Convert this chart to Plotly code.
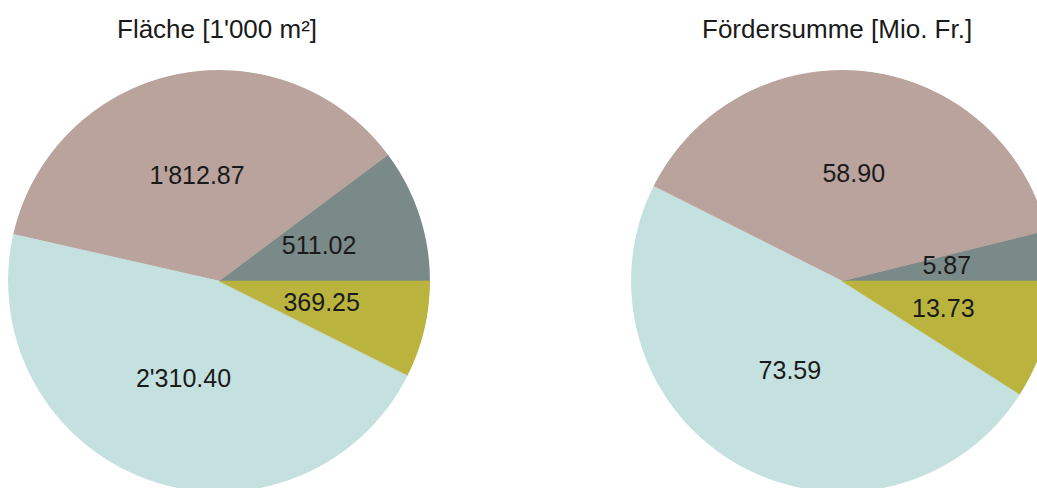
import numpy as np
import plotly.graph_objects as go

categories = ["A", "B", "C", "D"]
flaeche = [511.02, 1812.87, 2310.40, 369.25]
foerdersumme = [5.87, 58.90, 73.59, 13.73]
colors = ["#7a8a88", "#b9a39c", "#c5e1df", "#bab43f"]
titles = ["Fläche [1'000 m²]", "Fördersumme [Mio. Fr.]"]

W, H = 1070, 500
FONT = "Liberation Sans, Arial"

def px_dom_x(cx, r):
    return [(cx - r) / W, (cx + r) / W]

def px_dom_y(cy, r):
    return [(H - cy - r) / H, (H - cy + r) / H]

fig = go.Figure()
layout_polars = {}
for k, (vals, cx) in enumerate([(flaeche, 219), (foerdersumme, 842)]):
    pname = "polar" if k == 0 else "polar2"
    v = np.array(vals, dtype=float)
    widths = v / v.sum() * 360.0
    mids = np.cumsum(widths) - widths / 2
    fig.add_trace(go.Barpolar(
        r=[1] * len(v), theta=mids, width=widths, base=0,
        marker=dict(color=colors, line=dict(color=colors, width=0.6)),
        customdata=v, hovertemplate="%{customdata:,.2f}<extra></extra>",
        subplot=pname, showlegend=False,
    ))
    fig.add_trace(go.Scatterpolar(
        r=[0.5] * len(v), theta=mids, mode="text",
        customdata=v, texttemplate="%{customdata:,.2f}",
        textfont=dict(family=FONT, size=25, color="#1a1a1a"),
        hoverinfo="skip", subplot=pname, showlegend=False,
    ))
    layout_polars[pname] = dict(
        domain=dict(x=px_dom_x(cx, 211), y=px_dom_y(281, 211)),
        bgcolor="rgba(0,0,0,0)", bargap=0,
        radialaxis=dict(visible=False, range=[0, 1]),
        angularaxis=dict(visible=False, rotation=0, direction="counterclockwise"),
    )

for t, cx in zip(titles, [217, 837]):
    fig.add_annotation(text=t, x=cx / W, y=(H - 29) / H, xref="paper", yref="paper",
                       showarrow=False, xanchor="center", yanchor="middle",
                       font=dict(family=FONT, size=26, color="#1a1a1a"))

fig.update_layout(width=W, height=H, margin=dict(l=0, r=0, t=0, b=0),
                  separators=".'", paper_bgcolor="white", **layout_polars)

fig.write_html("out.html", config={"displayModeBar": False},
               post_script="document.body.style.margin='0';document.body.style.overflow='hidden';")
